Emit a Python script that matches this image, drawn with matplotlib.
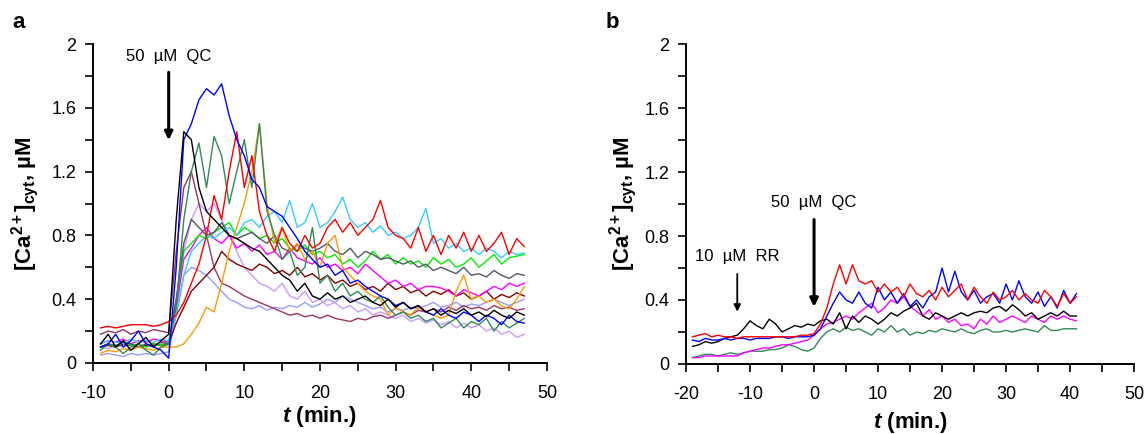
import matplotlib
matplotlib.use("Agg")
import matplotlib.pyplot as plt
import numpy as np
from matplotlib.ticker import MultipleLocator, FuncFormatter

plt.rcParams['font.family'] = ['Liberation Sans', 'DejaVu Sans']
plt.rcParams['mathtext.fontset'] = 'custom'
plt.rcParams['mathtext.rm'] = 'Liberation Sans'
plt.rcParams['mathtext.it'] = 'Liberation Sans:italic'
plt.rcParams['mathtext.bf'] = 'Liberation Sans:bold'
plt.rcParams['mathtext.bfit'] = 'Liberation Sans:italic:bold'
plt.rcParams['axes.unicode_minus'] = False

# ---- panel a: time in minutes, -9 .. 47
t_a = np.arange(-9, 48)

red_a = [0.22, 0.23, 0.22, 0.23, 0.24, 0.24, 0.24, 0.23, 0.24, 0.26,
         0.30, 0.38, 0.50, 0.62, 0.80, 1.05, 0.90, 1.20, 1.45, 1.10,
         1.30, 0.95, 0.80, 0.70, 0.85, 0.75, 0.70, 0.80, 0.72, 0.75,
         0.85, 0.90, 0.82, 0.88, 0.80, 0.85, 0.90, 1.02, 0.85, 0.80,
         0.78, 0.72, 0.85, 0.70, 0.80, 0.68, 0.80, 0.72, 0.82, 0.70,
         0.80, 0.70, 0.75, 0.82, 0.68, 0.78, 0.73]
cyan_a = [0.12, 0.14, 0.13, 0.12, 0.15, 0.13, 0.14, 0.13, 0.15, 0.14,
          0.30, 0.55, 0.70, 0.75, 0.80, 0.78, 0.82, 0.85, 0.80, 0.88,
          0.90, 0.85, 0.92, 0.95, 0.88, 1.02, 0.85, 0.88, 1.00, 0.85,
          0.88, 0.95, 1.04, 0.90, 0.85, 0.88, 0.82, 0.86, 0.80, 0.82,
          0.78, 0.80, 0.85, 0.97, 0.75, 0.78, 0.72, 0.75, 0.70, 0.72,
          0.68, 0.72, 0.70, 0.66, 0.70, 0.68, 0.69]
blue_a = [0.10, 0.12, 0.18, 0.10, 0.14, 0.20, 0.12, 0.10, 0.08, 0.03,
          0.60, 1.40, 1.50, 1.65, 1.72, 1.68, 1.75, 1.55, 1.40, 1.30,
          1.15, 1.10, 0.98, 0.95, 0.92, 0.85, 0.78, 0.70, 0.65, 0.60,
          0.62, 0.55, 0.58, 0.50, 0.52, 0.48, 0.45, 0.42, 0.40, 0.36,
          0.38, 0.34, 0.36, 0.32, 0.30, 0.34, 0.30, 0.28, 0.32, 0.30,
          0.26, 0.30, 0.28, 0.24, 0.30, 0.26, 0.25]
black_a = [0.12, 0.18, 0.10, 0.14, 0.08, 0.12, 0.16, 0.10, 0.14, 0.18,
           0.90, 1.45, 1.40, 1.10, 0.95, 0.90, 0.85, 0.80, 0.78, 0.75,
           0.72, 0.70, 0.65, 0.60, 0.55, 0.52, 0.45, 0.50, 0.42, 0.40,
           0.44, 0.40, 0.42, 0.38, 0.40, 0.42, 0.38, 0.36, 0.40, 0.35,
           0.38, 0.34, 0.36, 0.32, 0.34, 0.30, 0.33, 0.31, 0.34, 0.30,
           0.32, 0.29, 0.33, 0.30, 0.28, 0.32, 0.30]
gray_a = [0.10, 0.12, 0.11, 0.13, 0.12, 0.10, 0.12, 0.11, 0.13, 0.12,
          0.40, 0.75, 0.90, 0.85, 0.80, 0.82, 0.88, 0.80, 0.78, 0.80,
          0.82, 0.78, 0.75, 0.80, 0.72, 0.70, 0.74, 0.72, 0.70, 0.72,
          0.75, 0.70, 0.68, 0.72, 0.66, 0.70, 0.68, 0.65, 0.66, 0.64,
          0.62, 0.64, 0.60, 0.62, 0.58, 0.60, 0.58, 0.56, 0.60, 0.55,
          0.56, 0.54, 0.58, 0.55, 0.53, 0.56, 0.55]
seagreen_a = [0.08, 0.12, 0.10, 0.06, 0.10, 0.12, 0.08, 0.05, 0.10, 0.12,
              0.35, 0.90, 1.20, 1.38, 1.10, 1.42, 1.30, 1.00, 1.20, 1.40,
              1.10, 1.50, 0.95, 0.80, 0.65, 0.70, 0.55, 0.60, 0.85, 0.50,
              0.55, 0.45, 0.50, 0.42, 0.45, 0.40, 0.38, 0.42, 0.35, 0.30,
              0.32, 0.28, 0.30, 0.26, 0.28, 0.22, 0.25, 0.28, 0.22, 0.26,
              0.24, 0.28, 0.20, 0.26, 0.22, 0.25, 0.28]
orange_a = [0.06, 0.08, 0.07, 0.09, 0.08, 0.10, 0.09, 0.08, 0.10, 0.10,
            0.10, 0.12, 0.18, 0.25, 0.35, 0.32, 0.50, 0.70, 0.85, 1.00,
            1.20, 1.50, 1.00, 0.75, 0.85, 0.70, 0.75, 0.65, 0.70, 0.60,
            0.75, 0.80, 0.60, 0.55, 0.50, 0.45, 0.42, 0.40, 0.30, 0.35,
            0.32, 0.30, 0.35, 0.32, 0.30, 0.28, 0.30, 0.45, 0.55, 0.40,
            0.42, 0.38, 0.40, 0.36, 0.34, 0.40, 0.48]
lime_a = [0.10, 0.12, 0.10, 0.13, 0.11, 0.12, 0.10, 0.12, 0.11, 0.13,
          0.40, 0.70, 0.75, 0.80, 0.78, 0.82, 0.85, 0.88, 0.80, 0.85,
          0.82, 0.78, 0.80, 0.75, 0.78, 0.72, 0.70, 0.74, 0.68, 0.70,
          0.66, 0.68, 0.62, 0.65, 0.60, 0.64, 0.70, 0.65, 0.68, 0.62,
          0.66, 0.62, 0.64, 0.60, 0.66, 0.62, 0.65, 0.60, 0.62, 0.66,
          0.60, 0.64, 0.68, 0.62, 0.66, 0.67, 0.68]
magenta_a = [0.12, 0.14, 0.13, 0.15, 0.12, 0.14, 0.13, 0.15, 0.14, 0.13,
             0.35, 0.65, 0.72, 0.80, 0.85, 0.78, 0.75, 0.80, 0.72, 0.75,
             0.70, 0.74, 0.68, 0.70, 0.65, 0.72, 0.66, 0.64, 0.62, 0.66,
             0.60, 0.62, 0.58, 0.60, 0.56, 0.62, 0.58, 0.54, 0.50, 0.52,
             0.48, 0.50, 0.46, 0.48, 0.48, 0.47, 0.45, 0.42, 0.46, 0.44,
             0.42, 0.45, 0.48, 0.46, 0.50, 0.48, 0.50]
violet_a = [0.10, 0.09, 0.11, 0.10, 0.12, 0.10, 0.11, 0.10, 0.12, 0.11,
            0.30, 0.70, 0.90, 1.00, 0.95, 1.00, 0.90, 0.80, 0.70, 0.60,
            0.55, 0.50, 0.48, 0.45, 0.50, 0.42, 0.40, 0.45, 0.38, 0.40,
            0.36, 0.38, 0.34, 0.36, 0.32, 0.34, 0.30, 0.32, 0.30, 0.28,
            0.30, 0.26, 0.28, 0.25, 0.27, 0.24, 0.26, 0.22, 0.25, 0.22,
            0.24, 0.20, 0.22, 0.18, 0.20, 0.16, 0.18]
lilac_a = [0.05, 0.06, 0.05, 0.04, 0.06, 0.05, 0.06, 0.05, 0.06, 0.07,
           0.30, 0.55, 0.60, 0.58, 0.55, 0.50, 0.45, 0.40, 0.38, 0.35,
           0.34, 0.36, 0.33, 0.35, 0.34, 0.36, 0.35, 0.38, 0.35, 0.37,
           0.40, 0.38, 0.42, 0.40, 0.38, 0.36, 0.34, 0.35, 0.32, 0.34,
           0.33, 0.35, 0.34, 0.36, 0.38, 0.35, 0.36, 0.38, 0.35, 0.37,
           0.36, 0.38, 0.40, 0.38, 0.36, 0.38, 0.40]
plum_a = [0.18, 0.20, 0.19, 0.21, 0.18, 0.20, 0.19, 0.21, 0.20, 0.19,
          0.70, 1.10, 1.20, 1.00, 0.80, 0.60, 0.50, 0.48, 0.45, 0.42,
          0.40, 0.38, 0.36, 0.34, 0.32, 0.30, 0.31, 0.29, 0.30, 0.28,
          0.30, 0.28, 0.27, 0.26, 0.28, 0.27, 0.29, 0.30, 0.28, 0.30,
          0.32, 0.30, 0.33, 0.32, 0.34, 0.32, 0.35, 0.33, 0.36, 0.34,
          0.35, 0.33, 0.36, 0.34, 0.35, 0.33, 0.34]
darkred_a = [0.10, 0.11, 0.10, 0.12, 0.11, 0.10, 0.11, 0.12, 0.11, 0.12,
             0.25, 0.35, 0.45, 0.50, 0.55, 0.60, 0.70, 0.65, 0.62, 0.60,
             0.58, 0.62, 0.60, 0.56, 0.58, 0.55, 0.60, 0.54, 0.56, 0.52,
             0.55, 0.50, 0.52, 0.48, 0.50, 0.46, 0.48, 0.45, 0.50, 0.46,
             0.48, 0.44, 0.46, 0.42, 0.45, 0.43, 0.46, 0.42, 0.44, 0.40,
             0.42, 0.45, 0.40, 0.43, 0.41, 0.44, 0.42]

traces_a = [
    (lilac_a, '#9999ff'), (violet_a, '#cc99ff'), (plum_a, '#993366'),
    (darkred_a, '#800000'), (magenta_a, '#ff00ff'), (lime_a, '#00ee00'),
    (gray_a, '#555566'), (cyan_a, '#33ccff'), (orange_a, '#ff9900'),
    (seagreen_a, '#2e8b57'), (red_a, '#ff0000'), (blue_a, '#0000ff'),
    (black_a, '#000000'),
]

# ---- panel b: time in minutes, -19 .. 41
t_b = np.arange(-19, 42)

red_b = [0.17, 0.18, 0.19, 0.17, 0.18, 0.17, 0.17, 0.16, 0.17, 0.17,
         0.17, 0.17, 0.17, 0.17, 0.17, 0.17, 0.17, 0.18, 0.18, 0.19,
         0.25, 0.35, 0.50, 0.62, 0.50, 0.62, 0.52, 0.50, 0.52, 0.45,
         0.50, 0.45, 0.48, 0.42, 0.50, 0.44, 0.42, 0.46, 0.40, 0.48,
         0.42, 0.46, 0.50, 0.40, 0.48, 0.42, 0.38, 0.45, 0.40, 0.42,
         0.46, 0.40, 0.44, 0.40, 0.38, 0.46, 0.42, 0.36, 0.44, 0.38,
         0.42]
blue_b = [0.15, 0.14, 0.16, 0.15, 0.15, 0.16, 0.15, 0.16, 0.16, 0.15,
          0.16, 0.16, 0.16, 0.17, 0.17, 0.16, 0.17, 0.17, 0.17, 0.18,
          0.22, 0.30, 0.38, 0.45, 0.40, 0.38, 0.45, 0.38, 0.35, 0.48,
          0.40, 0.45, 0.38, 0.44, 0.36, 0.40, 0.35, 0.42, 0.45, 0.60,
          0.45, 0.58, 0.45, 0.40, 0.46, 0.38, 0.42, 0.44, 0.38, 0.50,
          0.40, 0.52, 0.42, 0.38, 0.45, 0.36, 0.42, 0.35, 0.46, 0.38,
          0.44]
black_b = [0.11, 0.12, 0.14, 0.13, 0.14, 0.16, 0.17, 0.18, 0.22, 0.27,
           0.24, 0.22, 0.28, 0.25, 0.20, 0.22, 0.24, 0.23, 0.25, 0.24,
           0.27, 0.28, 0.25, 0.32, 0.22, 0.30, 0.26, 0.30, 0.28, 0.25,
           0.28, 0.32, 0.30, 0.33, 0.35, 0.38, 0.30, 0.28, 0.32, 0.30,
           0.28, 0.30, 0.32, 0.30, 0.32, 0.33, 0.32, 0.35, 0.36, 0.33,
           0.37, 0.34, 0.30, 0.32, 0.28, 0.30, 0.32, 0.30, 0.33, 0.30,
           0.30]
magenta_b = [0.04, 0.04, 0.05, 0.05, 0.05, 0.05, 0.05, 0.05, 0.07, 0.08,
             0.09, 0.10, 0.10, 0.11, 0.12, 0.12, 0.13, 0.14, 0.15, 0.18,
             0.22, 0.25, 0.26, 0.28, 0.30, 0.28, 0.32, 0.35, 0.38, 0.32,
             0.35, 0.40, 0.38, 0.42, 0.36, 0.33, 0.30, 0.34, 0.28, 0.30,
             0.26, 0.28, 0.24, 0.25, 0.22, 0.28, 0.25, 0.30, 0.26, 0.28,
             0.30, 0.28, 0.26, 0.30, 0.28, 0.26, 0.30, 0.28, 0.30, 0.28,
             0.27]
seagreen_b = [0.04, 0.05, 0.06, 0.06, 0.05, 0.06, 0.07, 0.06, 0.07, 0.08,
              0.08, 0.08, 0.09, 0.09, 0.10, 0.12, 0.11, 0.09, 0.08, 0.10,
              0.16, 0.20, 0.22, 0.20, 0.23, 0.21, 0.22, 0.20, 0.18, 0.22,
              0.20, 0.24, 0.20, 0.22, 0.18, 0.20, 0.19, 0.21, 0.20, 0.22,
              0.21, 0.20, 0.22, 0.20, 0.19, 0.21, 0.22, 0.20, 0.20, 0.21,
              0.20, 0.21, 0.22, 0.21, 0.20, 0.24, 0.21, 0.21, 0.22, 0.22,
              0.22]

traces_b = [
    (seagreen_b, '#2e8b57'), (magenta_b, '#ff00ff'), (black_b, '#000000'),
    (blue_b, '#0000ff'), (red_b, '#ff0000'),
]

ylabel = r'$\mathbf{[Ca^{2+}]_{cyt}}$, µM'
xlabel = r'$\mathbfit{t}$ (min.)'


def style_axis(ax, xmin, xmax):
    ax.set_xlim(xmin, xmax)
    ax.set_ylim(0, 2)
    ax.spines['top'].set_visible(False)
    ax.spines['right'].set_visible(False)
    for s in ('left', 'bottom'):
        ax.spines[s].set_linewidth(1.4)
    ax.xaxis.set_major_locator(MultipleLocator(10))
    ax.xaxis.set_minor_locator(MultipleLocator(5))
    ax.yaxis.set_major_locator(MultipleLocator(0.4))
    ax.yaxis.set_minor_locator(MultipleLocator(0.2))
    ax.yaxis.set_major_formatter(FuncFormatter(lambda v, p: '%g' % round(v, 1)))
    ax.tick_params(which='both', direction='out', length=6, width=1.2,
                   labelsize=13)
    ax.tick_params(axis='y', pad=6)
    ax.tick_params(axis='x', pad=10)


fig = plt.figure(figsize=(11.44, 4.34), dpi=100)
ax_a = fig.add_axes([0.0813, 0.1636, 0.3968, 0.735])
ax_b = fig.add_axes([0.5997, 0.1613, 0.3916, 0.7373])

for vals, col in traces_a:
    ax_a.plot(t_a, vals, color=col, lw=1.0)
style_axis(ax_a, -10, 50)
ax_a.set_ylabel(ylabel, fontsize=16, fontweight='bold', va='center')
ax_a.yaxis.set_label_coords(-0.150, 0.5)
ax_a.set_xlabel(xlabel, fontsize=16, fontweight='bold', va='center')
ax_a.xaxis.set_label_coords(0.5, -0.168)

for vals, col in traces_b:
    ax_b.plot(t_b, vals, color=col, lw=1.0)
style_axis(ax_b, -20, 50)
ax_b.set_ylabel(ylabel, fontsize=16, fontweight='bold', va='center')
ax_b.yaxis.set_label_coords(-0.140, 0.5)
ax_b.set_xlabel(xlabel, fontsize=16, fontweight='bold', va='center')
ax_b.xaxis.set_label_coords(0.5, -0.183)

arrow = dict(arrowstyle='-|>', color='black', lw=2.2, mutation_scale=12)
ax_a.annotate('', xy=(0, 1.38), xytext=(0, 1.84), arrowprops=arrow)
ax_a.text(0, 1.92, '50  µM  QC', ha='center', va='center', fontsize=12)

ax_b.annotate('', xy=(0, 0.34), xytext=(0, 0.92), arrowprops=arrow)
ax_b.text(0, 1.01, '50  µM  QC', ha='center', va='center', fontsize=12)
thin = dict(arrowstyle='-|>', color='black', lw=1.3, mutation_scale=10)
ax_b.annotate('', xy=(-12, 0.31), xytext=(-12, 0.58), arrowprops=thin)
ax_b.text(-12, 0.67, '10  µM  RR', ha='center', va='center', fontsize=12)

fig.text(12 / 1144, 1 - 22 / 434, 'a', fontsize=16, fontweight='bold',
         va='center', ha='left')
fig.text(606 / 1144, 1 - 22 / 434, 'b', fontsize=16, fontweight='bold',
         va='center', ha='left')

fig.savefig('out.png', dpi=100)
